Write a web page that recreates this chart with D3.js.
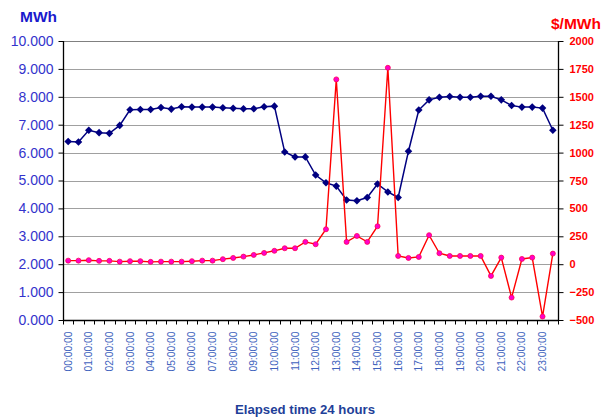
<!DOCTYPE html>
<html>
<head>
<meta charset="utf-8">
<script src="https://cdn.jsdelivr.net/npm/d3@7"></script>
<style>
  html, body { margin: 0; padding: 0; background: #fff; }
  svg { display: block; font-family: "Liberation Sans", Arial, sans-serif; }
</style>
</head>
<body>
<svg id="chart" width="603" height="420"></svg>
<script>
// Half-hourly intervals over one day
const times = d3.range(48).map(i => {
  const h = String(Math.floor(i / 2)).padStart(2, "0");
  const m = i % 2 ? "30" : "00";
  return `${h}:${m}:00`;
});

// Energy (MWh) per interval
const energy = [
  6400, 6380, 6800, 6715, 6690, 6975, 7535, 7545, 7545, 7615,
  7560, 7645, 7630, 7630, 7630, 7610, 7590, 7570, 7570, 7645,
  7665, 6020, 5845, 5845, 5195, 4920, 4800, 4300, 4275, 4390,
  4875, 4590, 4390, 6050, 7525, 7890, 7985, 8010, 7985, 7985,
  8020, 8020, 7890, 7690, 7630, 7630, 7595, 6800
];

// Price ($/MWh) per interval
const price = [
  32, 32, 36, 30, 30, 23, 27, 27, 21, 23,
  23, 23, 27, 32, 32, 45, 56, 68, 83, 101,
  120, 143, 143, 200, 179, 313, 1656, 200, 253, 200,
  340, 1760, 74, 56, 65, 260, 98, 74, 74, 74,
  74, -105, 59, -299, 47, 59, -469, 95
];

const energyTicks = d3.range(0, 10001, 1000);
const priceTicks = d3.range(-500, 2001, 250);

const svg = d3.select("#chart");
const plot = { left: 63, right: 558, top: 41, bottom: 320 };

const x = d3.scaleBand().domain(times).range([plot.left, plot.right]).padding(0);
const yE = d3.scaleLinear().domain([0, 10000]).range([plot.bottom, plot.top]);
const yP = d3.scaleLinear().domain([-500, 2000]).range([plot.bottom, plot.top]);
const cx = t => x(t) + x.bandwidth() / 2;

// Thousands shown with a dot separator, e.g. 10.000
const fmtE = v => d3.format(".3f")(v / 1000);

// Gridlines
svg.append("g")
  .selectAll("line")
  .data(energyTicks.filter(v => v > 0))
  .join("line")
  .attr("x1", plot.left).attr("x2", plot.right)
  .attr("y1", d => Math.round(yE(d)) + 0.5).attr("y2", d => Math.round(yE(d)) + 0.5)
  .attr("stroke", d => d === 10000 ? "#808080" : "#a0a0a0")
  .attr("stroke-width", 1);

// Left axis
const leftAxis = svg.append("g")
  .attr("transform", `translate(${plot.left + 0.5},0)`)
  .call(d3.axisLeft(yE).tickValues(energyTicks).tickSize(5).tickPadding(5).tickFormat(fmtE));
leftAxis.select(".domain").attr("stroke", "#000").attr("stroke-width", 1.3)
  .attr("d", `M0,${plot.top}V${plot.bottom}`);
leftAxis.selectAll(".tick line").attr("stroke", "#000");
leftAxis.selectAll(".tick text")
  .attr("fill", "#3333cc").attr("font-size", "14px")
  .attr("font-family", "'Liberation Sans', Arial, sans-serif");

// Right axis
const rightAxis = svg.append("g")
  .attr("transform", `translate(${plot.right + 0.5},0)`)
  .call(d3.axisRight(yP).tickValues(priceTicks).tickSize(5).tickPadding(6).tickFormat(d3.format("d")));
rightAxis.select(".domain").attr("stroke", "#000").attr("stroke-width", 1.3)
  .attr("d", `M0,${plot.top}V${plot.bottom}`);
rightAxis.selectAll(".tick line").attr("stroke", "#000");
rightAxis.selectAll(".tick text")
  .attr("fill", "#ff0000").attr("font-size", "11px").attr("font-weight", "bold")
  .attr("font-family", "'Liberation Sans', Arial, sans-serif");

// Bottom axis: ticks at interval boundaries, labels on the hour
const bottom = svg.append("g").attr("transform", `translate(0,${plot.bottom + 0.5})`);
bottom.append("line")
  .attr("x1", plot.left).attr("x2", plot.right + 1)
  .attr("stroke", "#000").attr("stroke-width", 1.3);
bottom.selectAll("line.tick")
  .data(times.concat(["end"]))
  .join("line").attr("class", "tick")
  .attr("x1", (d, i) => Math.round(plot.left + i * x.bandwidth()) + 0.5)
  .attr("x2", (d, i) => Math.round(plot.left + i * x.bandwidth()) + 0.5)
  .attr("y1", 0).attr("y2", 4)
  .attr("stroke", "#000");
bottom.selectAll("text")
  .data(times.filter((d, i) => i % 2 === 0))
  .join("text")
  .attr("transform", d => `translate(${cx(d) + 3.5},11) rotate(-90)`)
  .attr("text-anchor", "end")
  .attr("fill", "#4062bd")
  .attr("font-size", "10.3px")
  .text(d => d);

// Energy series
svg.append("path")
  .datum(energy)
  .attr("fill", "none").attr("stroke", "#000080").attr("stroke-width", 1.5)
  .attr("d", d3.line().x((d, i) => cx(times[i])).y(d => yE(d)));
svg.append("g")
  .selectAll("path")
  .data(energy)
  .join("path")
  .attr("d", "M0,-3.8L3.8,0L0,3.8L-3.8,0Z")
  .attr("transform", (d, i) => `translate(${cx(times[i])},${yE(d)})`)
  .attr("fill", "#000080");

// Price series
svg.append("path")
  .datum(price)
  .attr("fill", "none").attr("stroke", "#ff0000").attr("stroke-width", 1.4)
  .attr("d", d3.line().x((d, i) => cx(times[i])).y(d => yP(d)));
svg.append("g")
  .selectAll("circle")
  .data(price)
  .join("circle")
  .attr("cx", (d, i) => cx(times[i]))
  .attr("cy", d => yP(d))
  .attr("r", 2.5)
  .attr("fill", "#ff00cc")
  .attr("stroke", "#ff0055").attr("stroke-width", 0.8);

// Titles
svg.append("text")
  .attr("x", 20).attr("y", 22)
  .attr("fill", "#1a1acc").attr("font-size", "15.5px").attr("font-weight", "bold")
  .text("MWh");
svg.append("text")
  .attr("x", 551).attr("y", 29)
  .attr("fill", "#ff0000").attr("font-size", "15.5px").attr("font-weight", "bold")
  .text("$/MWh");
svg.append("text")
  .attr("x", 305).attr("y", 414)
  .attr("text-anchor", "middle")
  .attr("fill", "#1f3f99").attr("font-size", "13.2px").attr("font-weight", "bold")
  .text("Elapsed time 24 hours");
</script>
</body>
</html>
